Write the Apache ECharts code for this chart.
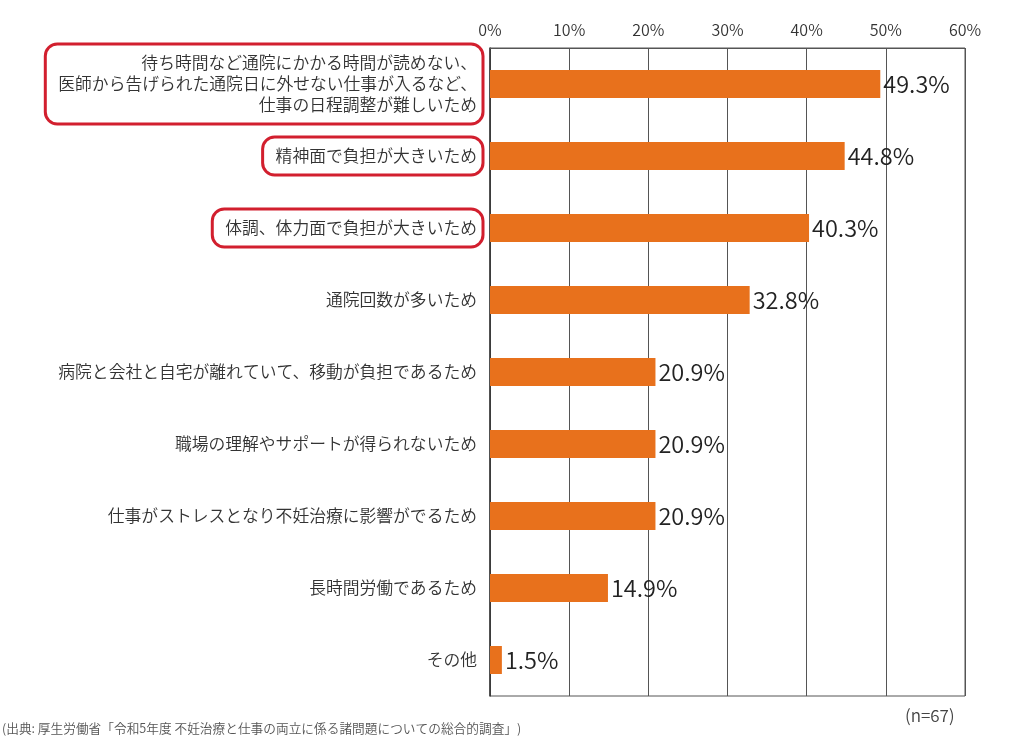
<!DOCTYPE html>
<html>
<head>
<meta charset="utf-8">
<script src="https://cdn.jsdelivr.net/npm/echarts@6/dist/echarts.min.js"></script>
<style>
html,body{margin:0;padding:0;background:#fff;}
#chart{width:1024px;height:744px;}
</style>
</head>
<body>
<div id="chart"></div>
<script>
const categories = [
  '待ち時間など通院にかかる時間が読めない、\n医師から告げられた通院日に外せない仕事が入るなど、\n仕事の日程調整が難しいため',
  '精神面で負担が大きいため',
  '体調、体力面で負担が大きいため',
  '通院回数が多いため',
  '病院と会社と自宅が離れていて、移動が負担であるため',
  '職場の理解やサポートが得られないため',
  '仕事がストレスとなり不妊治療に影響がでるため',
  '長時間労働であるため',
  'その他'
];
const values = [49.3, 44.8, 40.3, 32.8, 20.9, 20.9, 20.9, 14.9, 1.5];
const highlighted = [0, 1, 2];
const axisTicks = [0, 10, 20, 30, 40, 50, 60];
const sourceNote = '(出典: 厚生労働省「令和5年度 不妊治療と仕事の両立に係る諸問題についての総合的調査」)';
const sampleNote = '(n=67)';

const FONT = '"Noto Sans CJK JP", "Noto Sans", sans-serif';
const chart = echarts.init(document.getElementById('chart'));

const catData = categories.map((c, i) => {
  if (highlighted.includes(i)) {
    return {
      value: c,
      textStyle: {
        borderColor: '#D21F2E',
        borderWidth: 3,
        borderRadius: 12,
        padding: [8, 6, 9, 13]
      }
    };
  }
  return { value: c };
});

chart.setOption({
  animation: false,
  backgroundColor: '#fff',
  grid: {
    left: 490, right: 59, top: 48, bottom: 48,
    show: true, borderColor: '#555', borderWidth: 1, backgroundColor: 'transparent'
  },
  xAxis: {
    type: 'value',
    position: 'top',
    min: axisTicks[0],
    max: axisTicks[axisTicks.length - 1],
    interval: 10,
    axisLine: { show: true, lineStyle: { color: '#555', width: 1 } },
    axisTick: { show: false },
    splitLine: { show: true, lineStyle: { color: '#555', width: 1 } },
    axisLabel: {
      formatter: v => v + '%',
      color: '#333',
      fontSize: 16,
      fontWeight: 350,
      fontFamily: FONT,
      margin: 10
    }
  },
  yAxis: {
    type: 'category',
    inverse: true,
    data: catData,
    axisLine: { show: true, lineStyle: { color: '#333', width: 1.5 } },
    axisTick: { show: false },
    axisLabel: {
      color: '#333',
      fontSize: 16.8,
      fontWeight: 350,
      lineHeight: 21,
      fontFamily: FONT,
      margin: 7,
      padding: [0, 6, 0, 0],
      align: 'right'
    }
  },
  series: [{
    type: 'bar',
    data: values,
    barWidth: 28,
    itemStyle: { color: '#E8711C' },
    label: {
      show: true,
      position: 'right',
      distance: 3,
      formatter: p => p.value.toFixed(1) + '%',
      color: '#222',
      fontSize: 23.5,
      fontWeight: 350,
      fontFamily: FONT
    }
  }],
  graphic: [
    {
      type: 'text', left: 2, top: 722,
      style: { text: sourceNote, fill: '#555', fontSize: 12.7, fontWeight: 350, fontFamily: FONT }
    },
    {
      type: 'text', left: 905, top: 707,
      style: { text: sampleNote, fill: '#444', fontSize: 17, fontWeight: 350, fontFamily: FONT }
    }
  ]
});
</script>
</body>
</html>
